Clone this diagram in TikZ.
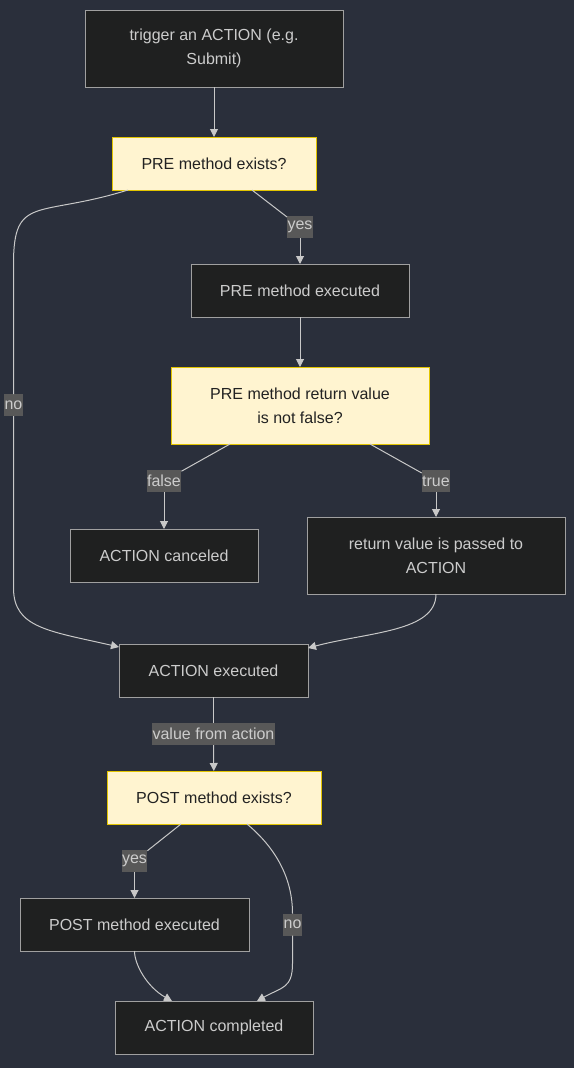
\documentclass[tikz,border=0pt]{standalone}
\usepackage{fontspec}
\setmainfont{Liberation Sans}
\usepackage{xcolor}
\definecolor{bg}{HTML}{2A2F3B}
\definecolor{boxfill}{HTML}{1F2020}
\definecolor{boxline}{HTML}{A0A0A0}
\definecolor{boxtext}{HTML}{CCCCCC}
\definecolor{askfill}{HTML}{FFF4D0}
\definecolor{askline}{HTML}{E2C400}
\definecolor{asktext}{HTML}{222222}
\definecolor{edgecol}{HTML}{C8C8C8}
\definecolor{tagfill}{HTML}{585858}
\usetikzlibrary{positioning,arrows.meta}
\tikzset{
  actbox/.style   ={ font=\fontsize{16}{24}\selectfont, rectangle, draw=boxline, fill=boxfill, text=boxtext,
                     line width=1pt, inner sep=0pt, outer sep=0pt, minimum height=53pt, align=center },
  askbox/.style   ={ font=\fontsize{16}{24}\selectfont, rectangle, draw=askline, fill=askfill, text=asktext,
                     line width=1pt, inner sep=0pt, outer sep=0pt, minimum height=53pt, align=center },
  edgelabel/.style={ font=\fontsize{16}{20}\selectfont, rectangle, fill=tagfill, text=boxtext,
                     inner sep=0pt, inner xsep=0.5pt, outer sep=0pt, minimum height=22pt },
  link/.style={draw=edgecol, line width=1pt},
  flow/.style={-{Triangle[length=8pt,width=8pt]}, draw=edgecol, line width=1pt}
}

\begin{document}
\begin{tikzpicture}[x=1pt,y=-1pt]
\fill[bg] (0,0) rectangle (574,1068);
\useasboundingbox (0,0) rectangle (574,1068);

\node[actbox,minimum width=258pt,minimum height=77pt] (trig) at (214,48.5) {trigger an ACTION (e.g.\\Submit)};
\node[askbox,minimum width=204pt] (preex) [below=50pt of trig] {PRE method exists?};
\node[actbox,minimum width=218pt] (preexec) [below=74pt of preex, xshift=86pt] {PRE method executed};
\node[askbox,minimum width=258pt,minimum height=77pt] (preret) [below=50pt of preexec] {PRE method return value\\is not false?};
\node[actbox,minimum width=188pt] (canceled) [below=85pt of preret, xshift=-136pt] {ACTION canceled};
\node[actbox,minimum width=258pt,minimum height=77pt] (passed) [below=73pt of preret, xshift=136pt] {return value is passed to\\ACTION};
\node[actbox,minimum width=189pt] (actexec) [below=200pt of preret, xshift=-86.5pt] {ACTION executed};
\node[askbox,minimum width=214pt] (postex) [below=74pt of actexec, xshift=0.5pt] {POST method exists?};
\node[actbox,minimum width=229pt] (postexec) [below=74pt of postex, xshift=-79.5pt] {POST method executed};
\node[actbox,minimum width=198pt] (actcomp) [below=177pt of postex] {ACTION completed};

% edge labels
\node[edgelabel] (yes1) [above=26pt of preexec] {yes};
\node[edgelabel] (no1) at (13.5,405) {no};
\node[edgelabel] (false) [above=37pt of canceled] {false};
\node[edgelabel] (true) [above=25pt of passed] {true};
\node[edgelabel] (vfa) [below=26pt of actexec] {value from action};
\node[edgelabel] (yes2) [above=26pt of postexec] {yes};
\node[edgelabel] (no2) at (292.5,924.5) {no};

\draw[flow] (trig) -- (preex);

\draw[link] ([xshift=38pt]preex.south) -- (yes1);
\draw[flow] (yes1) -- (preexec);

\draw[link] ([xshift=-86pt]preex.south) .. controls +(-90,28) and +(0,-70) .. ([yshift=130pt]no1.north) -- (no1);
\draw[flow] (no1) -- ([yshift=-172pt]no1.south) .. controls +(0,40) and +(-70,-16) .. ([yshift=-3pt]actexec.north west);

\draw[flow] (preexec) -- (preret);

\draw[link] ([xshift=-70pt]preret.south) -- (false);
\draw[flow] (false) -- (canceled);
\draw[link] ([xshift=70pt]preret.south) -- (true);
\draw[flow] (true) -- (passed);

\draw[flow] (passed.south) .. controls +(0,38) and +(60,-16) .. ([yshift=-4pt]actexec.north east);

\draw[link] (actexec) -- (vfa);
\draw[flow] (vfa) -- (postex);

\draw[link] ([xshift=-33pt]postex.south) -- (yes2);
\draw[flow] (yes2) -- (postexec);

\draw[link] ([xshift=33pt]postex.south) .. controls +(30,25) and +(0,-45) .. (no2);
\draw[flow] (no2) -- ([yshift=-28pt]no2.south) .. controls +(0,25) and +(25,-14) .. ([xshift=43pt]actcomp.north);

\draw[flow] (postexec) .. controls +(0,40) and +(-25,-14) .. ([xshift=-42pt]actcomp.north);

\end{tikzpicture}
\end{document}
